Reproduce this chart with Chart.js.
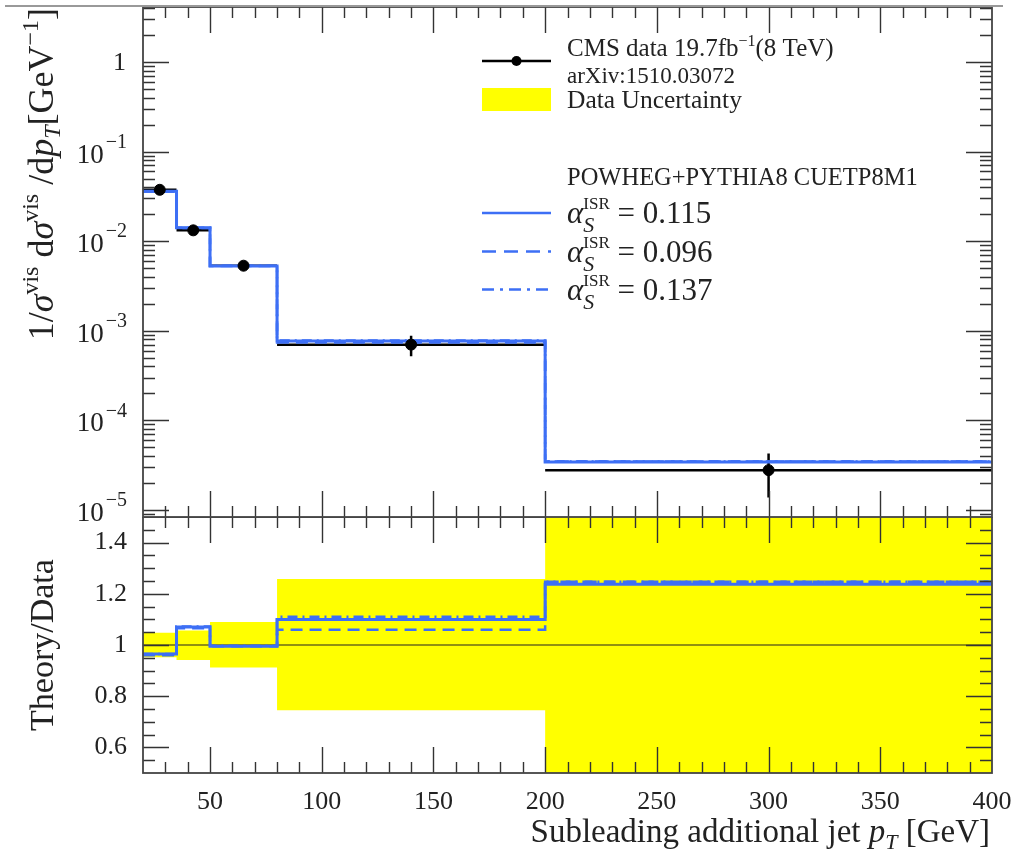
<!DOCTYPE html>
<html>
<head>
<meta charset="utf-8">
<title>Subleading additional jet pT</title>
<script src="https://cdn.jsdelivr.net/npm/chart.js@4.4.1/dist/chart.umd.min.js"></script>
<style>
    html, body { margin: 0; padding: 0; background: #fff; overflow: hidden; }
    #wrap { position: relative; width: 1014px; height: 853px; }
    #panelTop { position: absolute; left: 0; top: 0; }
    #panelBottom { position: absolute; left: 0; top: 517px; }
</style>
</head>
<body>
<div id="wrap">
    <canvas id="panelTop" width="1014" height="545"></canvas>
    <canvas id="panelBottom" width="1014" height="336"></canvas>
</div>
<script>
// bins of the subleading additional jet pT [GeV]
var binEdges = [20, 35, 50, 80, 200, 400];
var binCenters = [27.5, 42.5, 65, 140, 300];

// CMS data 19.7 fb-1, normalised cross section
var dataValues = [0.0374, 0.0132, 0.00532, 0.00070, 2.78e-5];
var dataErrUp = [0.0390, 0.0139, 0.00578, 0.00088, 4.26e-5];
var dataErrDown = [0.0357, 0.0124, 0.00485, 0.00052, 1.38e-5];

// POWHEG+PYTHIA8 CUETP8M1 predictions
var theory115 = [0.0360, 0.0141, 0.00529, 0.00077, 3.44e-5];
var theory096 = [0.0359, 0.0140, 0.00529, 0.00074, 3.47e-5];
var theory137 = [0.0361, 0.0141, 0.00530, 0.00078, 3.47e-5];

// Theory/Data ratio and data uncertainty band
var ratio115 = [0.965, 1.070, 0.995, 1.100, 1.237];
var ratio096 = [0.960, 1.065, 0.995, 1.060, 1.247];
var ratio137 = [0.965, 1.072, 0.997, 1.110, 1.247];
var bandLow = [0.952, 0.941, 0.912, 0.745, 0.45];
var bandHigh = [1.048, 1.057, 1.090, 1.258, 1.55];

// axis ticks
var xTicks = [50, 100, 150, 200, 250, 300, 350, 400];
var logTicks = [1e-5, 1e-4, 1e-3, 1e-2, 1e-1, 1];
var ratioTicks = [0.6, 0.8, 1, 1.2, 1.4];

var FUENTE = "'Liberation Serif', 'DejaVu Serif', serif";
var AZUL = '#3d6ff5';
var AMARILLO = '#ffff00';

function pasos(vals) {
    var pts = vals.map(function (v, i) {
        return {x: binEdges[i], y: v};
    });
    pts.push({x: binEdges[binEdges.length - 1], y: vals[vals.length - 1]});
    return pts;
}

function puntosDatos() {
    return dataValues.map(function (v, i) {
        return {x: binCenters[i], y: v};
    });
}

function barrasError() {
    var pts = [];
    for (var i = 0; i < dataValues.length; i++) {
        pts.push({x: binCenters[i], y: dataErrDown[i]});
        pts.push({x: binCenters[i], y: dataErrUp[i]});
        pts.push({x: binCenters[i], y: null});
        pts.push({x: binEdges[i], y: dataValues[i]});
        pts.push({x: binEdges[i + 1], y: dataValues[i]});
        pts.push({x: binEdges[i + 1], y: null});
    }
    return pts;
}

// text with super/subscripts, returns width
function textoRico(ctx, x, y, partes, dibujar) {
    var px = x, prevStart = x, prevEnd = x;
    partes.forEach(function (p) {
        ctx.font = (p.italic ? 'italic ' : '') + p.size + 'px ' + FUENTE;
        var start = p.stack ? prevStart : px;
        if (dibujar !== false) {
            ctx.fillText(p.t, start, y + (p.dy || 0));
        }
        var end = start + ctx.measureText(p.t).width;
        px = p.stack ? Math.max(prevEnd, end) : end;
        prevStart = start;
        prevEnd = end;
    });
    return px - x;
}

function textoVertical(ctx, xBase, yPos, partes, alinear) {
    var w = textoRico(ctx, 0, 0, partes, false);
    ctx.save();
    var y0 = alinear === 'top' ? yPos + w : yPos + w / 2;
    ctx.translate(xBase, y0);
    ctx.rotate(-Math.PI / 2);
    ctx.textBaseline = 'alphabetic';
    textoRico(ctx, 0, 0, partes);
    ctx.restore();
}

// inward tick marks and frame
var marcasPlugin = {
    id: 'marcas',
    afterDatasetsDraw: function (chart, args, opts) {
        var ctx = chart.ctx, a = chart.chartArea;
        var xs = chart.scales.x, ys = chart.scales.y;
        ctx.save();
        ctx.strokeStyle = '#333';
        ctx.lineWidth = 1.4;
        ctx.beginPath();
        for (var v = 30; v < 400; v += 10) {
            var px = Math.round(xs.getPixelForValue(v)) + 0.5;
            var len = (v % 50 === 0) ? 26 : 11;
            ctx.moveTo(px, a.top);
            ctx.lineTo(px, a.top + len);
            ctx.moveTo(px, a.bottom);
            ctx.lineTo(px, a.bottom - len);
        }
        opts.yMarcas().forEach(function (m) {
            var py = Math.round(ys.getPixelForValue(m.v)) + 0.5;
            if (py <= a.top + 1 || py >= a.bottom - 1) {
                return;
            }
            var len = m.major ? 26 : 12;
            ctx.moveTo(a.left, py);
            ctx.lineTo(a.left + len, py);
            ctx.moveTo(a.right, py);
            ctx.lineTo(a.right - len, py);
        });
        ctx.stroke();
        ctx.lineWidth = 1.8;
        ctx.strokeStyle = '#444';
        ctx.strokeRect(a.left, a.top, a.right - a.left, a.bottom - a.top);
        ctx.restore();
    }
};

function marcasLog() {
    var out = [];
    for (var k = -6; k <= 0; k++) {
        for (var m = 1; m <= 9; m++) {
            out.push({v: m * Math.pow(10, k), major: m === 1});
        }
    }
    return out;
}

function marcasRatio() {
    var out = [];
    for (var i = 10; i <= 30; i++) {
        out.push({v: i * 0.05, major: i % 4 === 0});
    }
    return out;
}

var tituloY = [
    {t: '1/', size: 36},
    {t: 'σ', size: 36, italic: true},
    {t: 'vis', size: 24, dy: -15},
    {t: ' d', size: 36},
    {t: 'σ', size: 36, italic: true},
    {t: 'vis', size: 24, dy: -15},
    {t: ' /d', size: 36},
    {t: 'p', size: 36, italic: true},
    {t: 'T', size: 24, dy: 7, italic: true},
    {t: '[GeV', size: 36},
    {t: '−1', size: 24, dy: -15},
    {t: ']', size: 36}
];

var tituloX = [
    {t: 'Subleading additional jet ', size: 33},
    {t: 'p', size: 33, italic: true},
    {t: 'T', size: 22, dy: 7, italic: true},
    {t: ' [GeV]', size: 33}
];

function alfa(valor) {
    return [
        {t: 'α', size: 31, italic: true},
        {t: 'ISR', size: 17, dy: -14},
        {t: 'S', size: 22, dy: 9, italic: true, stack: true},
        {t: ' = ' + valor, size: 31}
    ];
}

// labels, titles and legend of the upper panel
var decoracionSuperior = {
    id: 'decoracionSuperior',
    afterDraw: function (chart) {
        var ctx = chart.ctx, ys = chart.scales.y;
        ctx.save();
        ctx.strokeStyle = '#999';
        ctx.lineWidth = 2;
        ctx.beginPath();
        ctx.moveTo(5, 6);
        ctx.lineTo(1003, 6);
        ctx.stroke();

        ctx.fillStyle = '#222';
        ctx.textBaseline = 'middle';
        logTicks.forEach(function (v) {
            var py = ys.getPixelForValue(v);
            var k = Math.round(Math.log10(v));
            ctx.textAlign = 'left';
            if (k === 0) {
                ctx.font = '26px ' + FUENTE;
                ctx.fillText('1', 126 - ctx.measureText('1').width, py + 1);
                return;
            }
            ctx.font = '20px ' + FUENTE;
            var sup = '−' + (-k);
            var ws = ctx.measureText(sup).width;
            ctx.fillText(sup, 127 - ws, py - 9);
            ctx.font = '27px ' + FUENTE;
            var wb = ctx.measureText('10').width;
            ctx.fillText('10', 127 - ws - wb - 2, py + 4);
        });

        ctx.textBaseline = 'alphabetic';
        ctx.textAlign = 'left';
        textoVertical(ctx, 53, 8, tituloY, 'top');

        // legend
        ctx.strokeStyle = '#000';
        ctx.lineWidth = 2.5;
        ctx.beginPath();
        ctx.moveTo(482, 61);
        ctx.lineTo(551, 61);
        ctx.stroke();
        ctx.beginPath();
        ctx.arc(516.5, 61, 5, 0, Math.PI * 2);
        ctx.fillStyle = '#000';
        ctx.fill();
        ctx.fillStyle = '#222';
        textoRico(ctx, 567, 56, [
            {t: 'CMS data 19.7fb', size: 25},
            {t: '−1', size: 16, dy: -10},
            {t: '(8 TeV)', size: 25}
        ]);
        textoRico(ctx, 567, 83, [{t: 'arXiv:1510.03072', size: 23}]);
        ctx.fillStyle = AMARILLO;
        ctx.fillRect(482, 88, 69, 23);
        ctx.fillStyle = '#222';
        textoRico(ctx, 567, 108, [{t: 'Data Uncertainty', size: 25.5}]);
        textoRico(ctx, 567, 185, [{t: 'POWHEG+PYTHIA8 CUETP8M1', size: 24.5}]);

        var lineas = [
            {y: 213, dash: [], txt: '0.115'},
            {y: 251.5, dash: [14, 8], txt: '0.096'},
            {y: 289.5, dash: [12, 6, 3, 6], txt: '0.137'}
        ];
        lineas.forEach(function (l) {
            ctx.strokeStyle = AZUL;
            ctx.lineWidth = 2.5;
            ctx.setLineDash(l.dash);
            ctx.beginPath();
            ctx.moveTo(482, l.y);
            ctx.lineTo(551, l.y);
            ctx.stroke();
            ctx.setLineDash([]);
            ctx.fillStyle = '#222';
            textoRico(ctx, 567, l.y + 10, alfa(l.txt));
        });
        ctx.restore();
    }
};

var decoracionInferior = {
    id: 'decoracionInferior',
    afterDraw: function (chart) {
        var ctx = chart.ctx;
        ctx.save();
        ctx.fillStyle = '#222';
        ctx.textAlign = 'left';
        textoVertical(ctx, 53, 128, [{t: 'Theory/Data', size: 34}], 'center');
        var w = textoRico(ctx, 0, 0, tituloX, false);
        textoRico(ctx, 990 - w, 325, tituloX);
        ctx.restore();
    }
};

function fijarAncho(scale) {
    scale.width = 143;
    scale.paddingTop = 0;
    scale.paddingBottom = 0;
}

function cargarGraficoSuperior() {
    var ctx = document.getElementById('panelTop').getContext('2d');
    return new Chart(ctx, {
        type: 'scatter',
        data: {
            datasets: [
                {
                    label: 'CMS data',
                    data: puntosDatos(),
                    showLine: false,
                    pointRadius: 5.5,
                    pointBackgroundColor: '#000',
                    pointBorderColor: '#000',
                    order: 0
                },
                {
                    label: 'alphaS 0.115',
                    data: pasos(theory115),
                    showLine: true,
                    stepped: true,
                    borderColor: AZUL,
                    borderWidth: 3,
                    pointRadius: 0,
                    order: 1
                },
                {
                    label: 'alphaS 0.096',
                    data: pasos(theory096),
                    showLine: true,
                    stepped: true,
                    borderColor: AZUL,
                    borderWidth: 2.5,
                    borderDash: [12, 7],
                    pointRadius: 0,
                    order: 2
                },
                {
                    label: 'alphaS 0.137',
                    data: pasos(theory137),
                    showLine: true,
                    stepped: true,
                    borderColor: AZUL,
                    borderWidth: 2.5,
                    borderDash: [10, 5, 2, 5],
                    pointRadius: 0,
                    order: 3
                },
                {
                    label: 'errors',
                    data: barrasError(),
                    showLine: true,
                    spanGaps: false,
                    borderColor: '#000',
                    borderWidth: 2.5,
                    pointRadius: 0,
                    order: 4
                }
            ]
        },
        options: {
            responsive: false,
            animation: false,
            devicePixelRatio: 1,
            events: [],
            layout: {autoPadding: false, padding: {top: 7, right: 22, bottom: 28, left: 0}},
            plugins: {legend: {display: false}, tooltip: {enabled: false}, marcas: {yMarcas: marcasLog}},
            scales: {
                x: {type: 'linear', min: 20, max: 400, display: false},
                y: {
                    type: 'logarithmic',
                    min: 8.35e-6,
                    max: 4.1,
                    bounds: 'data',
                    grid: {display: false},
                    border: {display: false},
                    ticks: {display: false},
                    afterFit: fijarAncho
                }
            }
        },
        plugins: [marcasPlugin, decoracionSuperior]
    });
}

function cargarGraficoInferior() {
    var ctx = document.getElementById('panelBottom').getContext('2d');
    var linea = function (vals, dash, orden, ancho) {
        return {
            data: pasos(vals),
            showLine: true,
            stepped: true,
            borderColor: AZUL,
            borderWidth: ancho,
            borderDash: dash,
            pointRadius: 0,
            order: orden
        };
    };
    return new Chart(ctx, {
        type: 'scatter',
        data: {
            datasets: [
                linea(ratio115, [], 1, 3),
                linea(ratio096, [12, 7], 2, 2.5),
                linea(ratio137, [10, 5, 2, 5], 3, 2.5),
                {
                    data: [{x: 20, y: 1}, {x: 400, y: 1}],
                    showLine: true,
                    borderColor: '#222',
                    borderWidth: 1.2,
                    pointRadius: 0,
                    order: 5
                },
                {
                    data: pasos(bandLow),
                    showLine: true,
                    stepped: true,
                    borderColor: 'rgba(0,0,0,0)',
                    borderWidth: 1,
                    pointRadius: 0,
                    fill: false,
                    order: 7
                },
                {
                    data: pasos(bandHigh),
                    showLine: true,
                    stepped: true,
                    borderColor: 'rgba(0,0,0,0)',
                    borderWidth: 1,
                    backgroundColor: AMARILLO,
                    pointRadius: 0,
                    fill: '-1',
                    order: 6
                }
            ]
        },
        options: {
            responsive: false,
            animation: false,
            devicePixelRatio: 1,
            events: [],
            layout: {autoPadding: false, padding: {top: 0, right: 22, bottom: 0, left: 0}},
            plugins: {legend: {display: false}, tooltip: {enabled: false}, marcas: {yMarcas: marcasRatio}},
            scales: {
                x: {
                    type: 'linear',
                    min: 20,
                    max: 400,
                    grid: {display: false},
                    border: {display: false},
                    ticks: {
                        font: {family: FUENTE, size: 26},
                        color: '#222',
                        padding: 6,
                        maxRotation: 0,
                        autoSkip: false,
                        callback: function (v) { return String(v); }
                    },
                    afterBuildTicks: function (scale) {
                        scale.ticks = xTicks.map(function (v) { return {value: v}; });
                    },
                    afterFit: function (scale) {
                        scale.height = 80;
                        scale.paddingLeft = 0;
                        scale.paddingRight = 0;
                    }
                },
                y: {
                    type: 'linear',
                    min: 0.5,
                    max: 1.5,
                    grid: {display: false},
                    border: {display: false},
                    ticks: {
                        font: {family: FUENTE, size: 26},
                        color: '#222',
                        padding: 8,
                        callback: function (v) { return String(Math.round(v * 10) / 10); }
                    },
                    afterBuildTicks: function (scale) {
                        scale.ticks = ratioTicks.map(function (v) { return {value: v}; });
                    },
                    afterFit: fijarAncho
                }
            }
        },
        plugins: [marcasPlugin, decoracionInferior]
    });
}

try {
    cargarGraficoSuperior();
    cargarGraficoInferior();
} catch (e) {
    console.log('no se pudo cargar el grafico: ' + e);
}
</script>
</body>
</html>
